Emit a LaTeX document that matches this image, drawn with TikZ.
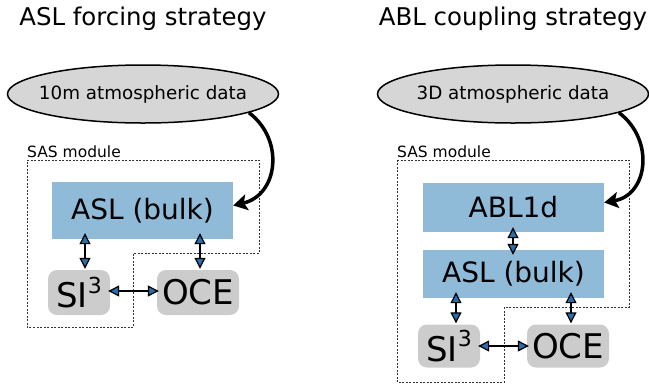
\documentclass[tikz,border=0pt]{standalone}
\usepackage{fontspec}
\setmainfont{DejaVu Sans}
\usetikzlibrary{arrows.meta,shapes.geometric,calc}
\definecolor{boxblue}{RGB}{143,186,216}
\definecolor{arrblue}{RGB}{40,110,170}
\definecolor{ellgray}{RGB}{214,214,214}
\definecolor{compgray}{RGB}{204,204,204}
\newcommand{\sithree}{SI\raisebox{0.42em}{\fontsize{22}{24}\selectfont 3}}
\begin{document}
\begin{tikzpicture}[x=1pt,y=-1pt,
  title/.style={font=\fontsize{24.4}{27}\selectfont,anchor=center},
  datael/.style={ellipse,draw=black,line width=1.5pt,fill=ellgray,minimum width=271pt,minimum height=58pt,inner sep=0pt,font=\fontsize{18.3}{20}\selectfont},
  sasbox/.style={draw=black!80,line width=0.6pt,dash pattern=on 2pt off 1.5pt},
  saslabel/.style={font=\fontsize{15.5}{17}\selectfont,anchor=base west,inner sep=0pt},
  bluebox/.style={fill=boxblue,inner sep=0pt,font=\fontsize{28}{30}\selectfont},
  comp/.style={fill=compgray,rounded corners=9pt,inner sep=0pt,font=\fontsize{34}{36}\selectfont},
  link/.style={line width=1.2pt,{Triangle[length=11pt,width=11pt,fill=arrblue]}-{Triangle[length=11pt,width=11pt,fill=arrblue]}},
  feed/.style={line width=3.5pt,-{Stealth[length=14pt,width=16pt,inset=3pt]}}
]
\useasboundingbox (0,0) rectangle (649,384);

% ---------- left panel ----------
\node[title] (t1) at (143,19) {ASL forcing strategy};
\node[datael] (e1) at (143,94) {\makebox[0pt]{10m atmospheric data}};
\node[saslabel] (s1) at (27,157) {SAS module};
\draw[sasbox] (27,160) -- (259,160) -- (259,253) -- (133,253) -- (133,327) -- (27,327) -- cycle;
\node[bluebox,minimum width=181pt,minimum height=57pt] (asl1) at (142.5,210.5) {ASL (bulk)};
\node[comp,minimum width=62pt,minimum height=45pt] (si1) at (79,292.5) {\sithree};
\node[comp,minimum width=82pt,minimum height=45pt] (oce1) at (198,292.5) {OCE};
\draw[link] ($(asl1.south -| 85,0)+(0,-6)$) -- ($(si1.north -| 85,0)+(0,-1)$);
\draw[link] ($(asl1.south -| 200,0)+(0,-6)$) -- ($(oce1.north -| 200,0)+(0,-1)$);
\draw[link] ($(si1.east |- 0,291)+(-2,0)$) -- ($(oce1.west |- 0,291)+(2,0)$);
\draw[feed] (e1.-10) .. controls (285,140) and (278,195) .. ([yshift=5pt]asl1.east);

% ---------- right panel ----------
\node[title] (t2) at (513,19) {ABL coupling strategy};
\node[datael] (e2) at (513,94) {\makebox[0pt]{3D atmospheric data}};
\node[saslabel] (s2) at (397,157) {SAS module};
\draw[sasbox] (397,160) -- (629,160) -- (629,307) -- (504,307) -- (504,382) -- (397,382) -- cycle;
\node[bluebox,minimum width=181pt,minimum height=49pt] (abl2) at (513.5,207.5) {ABL1d};
\node[bluebox,minimum width=181pt,minimum height=48pt] (asl2) at (513.5,274) {ASL (bulk)};
\node[comp,minimum width=62pt,minimum height=43pt] (si2) at (449,346) {\sithree};
\node[comp,minimum width=82pt,minimum height=43pt] (oce2) at (568,346) {OCE};
\draw[link] ($(abl2.south -| 513,0)+(0,-5)$) -- ($(asl2.north -| 513,0)+(0,5)$);
\draw[link] ($(asl2.south -| 456,0)+(0,-6)$) -- ($(si2.north -| 456,0)+(0,-1)$);
\draw[link] ($(asl2.south -| 571,0)+(0,-6)$) -- ($(oce2.north -| 571,0)+(0,-1)$);
\draw[link] ($(si2.east |- 0,346)+(-2,0)$) -- ($(oce2.west |- 0,346)+(2,0)$);
\draw[feed] (e2.-10) .. controls (655,140) and (648,195) .. ([yshift=5pt]abl2.east);
\end{tikzpicture}
\end{document}
